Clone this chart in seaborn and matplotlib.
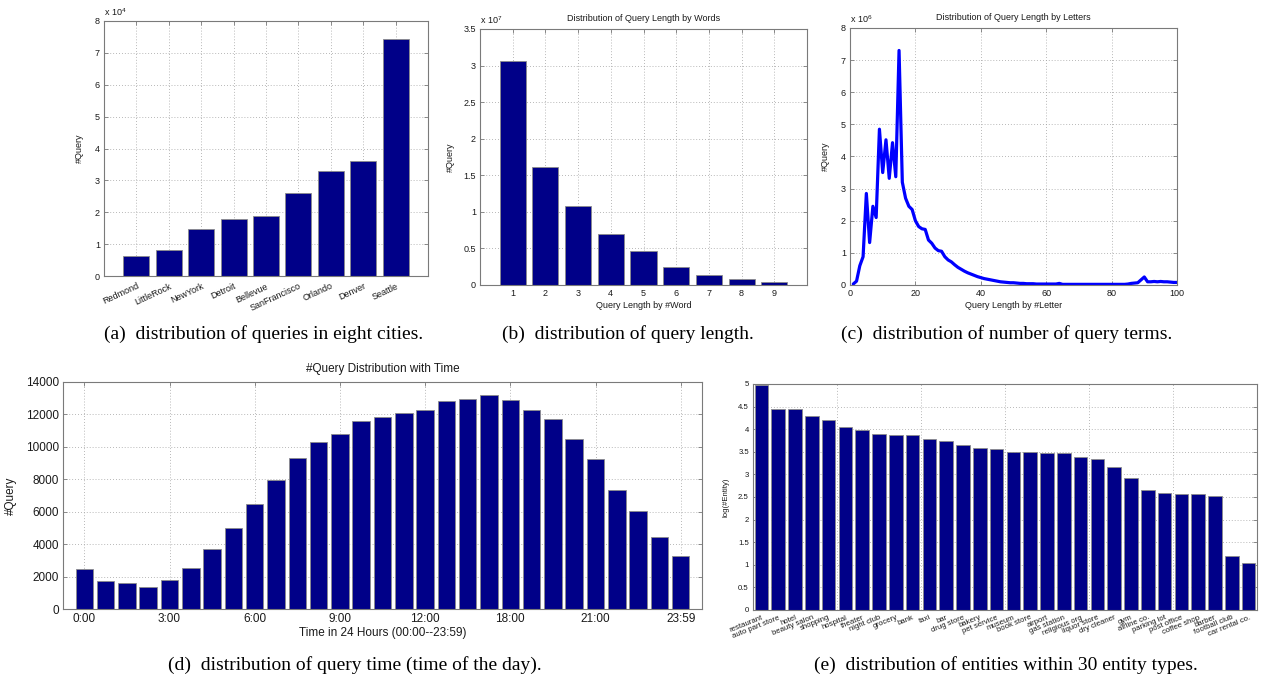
import matplotlib
matplotlib.use("Agg")
import matplotlib.pyplot as plt
from matplotlib.ticker import FuncFormatter, FixedLocator
import seaborn as sns
import numpy as np

# ---------------- data ----------------
cities = ["Redmond", "LittleRock", "NewYork", "Detroit", "Bellevue",
          "SanFrancisco", "Orlando", "Denver", "Seattle"]
city_queries = [6200, 8100, 14900, 18000, 18700, 26100, 32800, 36200, 74300]

word_lengths = ["1", "2", "3", "4", "5", "6", "7", "8", "9"]
word_queries = [30640000, 16200000, 10860000, 7000000, 4700000,
                2450000, 1360000, 770000, 400000]

letter_lengths = list(range(1, 101))
letter_queries_millions = [
    0.03, 0.12, 0.60, 0.88, 2.85, 1.32, 2.45, 2.10, 4.85, 3.50,
    4.52, 3.32, 4.43, 3.37, 7.30, 3.20, 2.70, 2.45, 2.35, 2.00,
    1.82, 1.75, 1.73, 1.40, 1.30, 1.15, 1.07, 1.05, 0.88, 0.78,
    0.72, 0.63, 0.55, 0.49, 0.43, 0.38, 0.34, 0.30, 0.26, 0.23,
    0.20, 0.18, 0.16, 0.14, 0.12, 0.10, 0.09, 0.08, 0.07, 0.07,
    0.06, 0.05, 0.05, 0.04, 0.04, 0.04, 0.03, 0.03, 0.03, 0.03,
    0.03, 0.03, 0.03, 0.05, 0.02, 0.02, 0.02, 0.02, 0.02, 0.02,
    0.02, 0.02, 0.02, 0.02, 0.02, 0.02, 0.02, 0.02, 0.02, 0.02,
    0.02, 0.02, 0.02, 0.02, 0.03, 0.05, 0.06, 0.07, 0.16, 0.25,
    0.10, 0.10, 0.11, 0.10, 0.11, 0.10, 0.10, 0.09, 0.08, 0.08]

time_slots = [f"slot{i}" for i in range(29)]
time_queries = [2450, 1750, 1610, 1360, 1770, 2510, 3730, 5000, 6470, 7950,
                9300, 10270, 10770, 11610, 11820, 12060, 12260, 12850, 12970,
                13180, 12900, 12300, 11710, 10500, 9240, 7350, 6070, 4450, 3270]
time_tick_labels = ["0:00", "3:00", "6:00", "9:00", "12:00", "18:00", "21:00", "23:59"]

entity_types = ["restaurant", "auto part store", "hotel", "beauty salon", "shopping",
                "hospital", "theater", "night club", "grocery", "bank", "taxi", "bar",
                "drug store", "bakery", "pet service", "museum", "book store", "airport",
                "gas station", "religious org", "liquor store", "dry cleaner", "gym",
                "airline co.", "parking lot", "post office", "coffee shop", "barber",
                "football club", "car rental co."]
entity_log = [4.97, 4.45, 4.45, 4.30, 4.20, 4.05, 3.98, 3.89, 3.88, 3.87,
              3.78, 3.75, 3.65, 3.59, 3.56, 3.50, 3.49, 3.48, 3.48, 3.39,
              3.34, 3.17, 2.91, 2.65, 2.59, 2.57, 2.57, 2.53, 1.20, 1.04]

# ---------------- style ----------------
sns.set_style("white")
plt.rcParams["font.family"] = ["Liberation Sans", "DejaVu Sans"]
plt.rcParams["mathtext.default"] = "regular"

BAR = "#000088"
EDGE = "#8c8c8c"
SPINE = "#7a7a7a"
GRIDC = "#a0a0a0"
TXT = "#1a1a1a"

W, H = 1263, 681
fig = plt.figure(figsize=(W / 100, H / 100), dpi=100)


def box(l, t, r, b):
    return [l / W, 1 - b / H, (r - l) / W, (b - t) / H]


def style(ax, fs):
    for s in ax.spines.values():
        s.set_visible(True)
        s.set_color(SPINE)
        s.set_linewidth(0.8)
    ax.tick_params(which="both", direction="in", length=3, width=0.6, color=SPINE,
                   labelsize=fs, labelcolor=TXT, pad=3,
                   top=True, right=True, bottom=True, left=True)
    ax.set_axisbelow(True)


def grid(ax, axis="both", which="major"):
    ax.grid(True, axis=axis, which=which, linestyle=(0, (1, 2.5)),
            color=GRIDC, linewidth=0.6)


# ---------------- (a) ----------------
ax = fig.add_axes(box(104, 21, 428, 276))
sns.barplot(x=cities, y=city_queries, order=cities, color=BAR, saturation=1,
            edgecolor=EDGE, linewidth=0.6, width=0.8, ax=ax)
style(ax, 6.5)
ax.set_xlim(-1, 9)
ax.set_ylim(0, 80000)
ax.set_yticks(np.arange(0, 80001, 10000))
ax.yaxis.set_major_formatter(FuncFormatter(lambda v, p: f"{v / 1e4:g}"))
ax.set_xticks(range(len(cities)))
ax.set_xticklabels(cities, rotation=25, ha="right", rotation_mode="anchor")
ax.tick_params(axis="x", pad=4)
grid(ax)
ax.set_ylabel("#Query", fontsize=6.5, color=TXT, labelpad=8)
ax.set_xlabel("")
ax.text(0, 1.012, r"x 10$^{4}$", transform=ax.transAxes, fontsize=6.5,
        ha="left", va="bottom", color=TXT)

# ---------------- (b) ----------------
ax = fig.add_axes(box(480, 29, 807, 285))
sns.barplot(x=word_lengths, y=word_queries, order=word_lengths, color=BAR,
            saturation=1, edgecolor=EDGE, linewidth=0.6, width=0.8, ax=ax)
style(ax, 6.5)
ax.set_xlim(-1, 9)
ax.set_ylim(0, 3.5e7)
ax.set_yticks(np.arange(0, 3.5e7 + 1, 0.5e7))
ax.yaxis.set_major_formatter(FuncFormatter(lambda v, p: f"{v / 1e7:g}"))
grid(ax)
ax.set_title("Distribution of Query Length by Words", fontsize=6.5, color=TXT, pad=6)
ax.set_xlabel("Query Length by #Word", fontsize=6.5, color=TXT, labelpad=2)
ax.set_ylabel("#Query", fontsize=6.5, color=TXT, labelpad=6)
ax.text(0, 1.012, r"x 10$^{7}$", transform=ax.transAxes, fontsize=6.5,
        ha="left", va="bottom", color=TXT)

# ---------------- (c) ----------------
ax = fig.add_axes(box(850, 28, 1177, 285))
sns.lineplot(x=letter_lengths, y=letter_queries_millions, color="#0000ff",
             linewidth=2.3, ax=ax)
style(ax, 6.5)
ax.set_xlim(0, 100)
ax.set_ylim(0, 8)
ax.set_xticks(range(0, 101, 20))
ax.set_yticks(range(0, 9))
grid(ax)
ax.set_title("Distribution of Query Length by Letters", fontsize=6.5, color=TXT, pad=6)
ax.set_xlabel("Query Length by #Letter", fontsize=6.5, color=TXT, labelpad=2)
ax.set_ylabel("#Query", fontsize=6.5, color=TXT, labelpad=8)
ax.text(0, 1.012, r"x 10$^{6}$", transform=ax.transAxes, fontsize=6.5,
        ha="left", va="bottom", color=TXT)

# ---------------- (d) ----------------
ax = fig.add_axes(box(63, 382, 702, 609))
sns.barplot(x=time_slots, y=time_queries, order=time_slots, color=BAR,
            saturation=1, edgecolor=EDGE, linewidth=0.6, width=0.82, ax=ax)
style(ax, 8.5)
ax.set_xlim(-1, 29)
ax.set_ylim(0, 14000)
ax.set_yticks(range(0, 14001, 2000))
ax.set_xticks(range(0, 29, 4))
ax.set_xticklabels(time_tick_labels)
grid(ax)
ax.set_title("#Query Distribution with Time", fontsize=8.5, color=TXT, pad=7)
ax.set_xlabel("Time in 24 Hours (00:00--23:59)", fontsize=8.5, color=TXT, labelpad=1)
ax.set_ylabel("#Query", fontsize=8.5, color=TXT, labelpad=6)

# ---------------- (e) ----------------
ax = fig.add_axes(box(753, 384, 1257, 610))
sns.barplot(x=entity_types, y=entity_log, order=entity_types, color=BAR,
            saturation=1, edgecolor=EDGE, linewidth=0.6, width=0.8, ax=ax)
style(ax, 5.6)
ax.set_xlim(-0.5, 29.5)
ax.set_ylim(0, 5)
ax.set_yticks(np.arange(0, 5.01, 0.5))
ax.yaxis.set_major_formatter(FuncFormatter(lambda v, p: f"{v:g}"))
ax.set_xticks(range(len(entity_types)))
ax.set_xticklabels(entity_types, rotation=22, ha="right", rotation_mode="anchor")
ax.tick_params(axis="x", which="major", length=0, pad=3)
ax.xaxis.set_minor_locator(FixedLocator([4.5, 9.5, 14.5, 19.5, 24.5]))
ax.tick_params(axis="x", which="minor", length=0)
grid(ax, axis="y")
grid(ax, axis="x", which="minor")
ax.set_xlabel("")
ax.set_ylabel("log(#Entity)", fontsize=5.6, color=TXT, labelpad=6)

# ---------------- captions ----------------
cap = dict(fontsize=14, family=["Liberation Serif", "DejaVu Serif"], color="black",
           ha="center", va="center")
fig.text(264 / W, 1 - 334 / H, "(a)  distribution of queries in eight cities.", **cap)
fig.text(628 / W, 1 - 334 / H, "(b)  distribution of query length.", **cap)
fig.text(1007 / W, 1 - 334 / H, "(c)  distribution of number of query terms.", **cap)
fig.text(355 / W, 1 - 665 / H, "(d)  distribution of query time (time of the day).", **cap)
fig.text(1006 / W, 1 - 665 / H, "(e)  distribution of entities within 30 entity types.", **cap)

fig.savefig("out.png", dpi=100)
